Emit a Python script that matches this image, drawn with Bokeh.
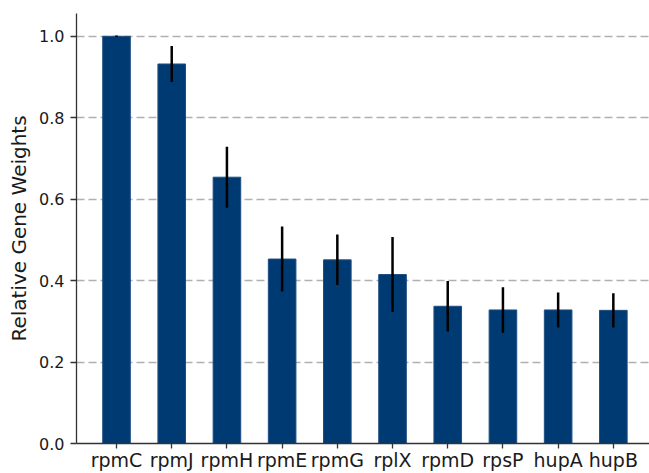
from bokeh.plotting import figure
from bokeh.models import Range1d, FixedTicker, PrintfTickFormatter, ColumnDataSource
from bokeh.embed import file_html
from bokeh.resources import INLINE

genes = ["rpmC", "rpmJ", "rpmH", "rpmE", "rpmG", "rplX", "rpmD", "rpsP", "hupA", "hupB"]
weights = [1.000, 0.932, 0.654, 0.453, 0.451, 0.415, 0.337, 0.328, 0.328, 0.327]
errors = [0.002, 0.044, 0.075, 0.080, 0.062, 0.092, 0.062, 0.056, 0.043, 0.042]
y_ticks = [0.0, 0.2, 0.4, 0.6, 0.8, 1.0]

xs = list(range(len(genes)))
src = ColumnDataSource(dict(
    x=xs, top=weights,
    lower=[w - e for w, e in zip(weights, errors)],
    upper=[w + e for w, e in zip(weights, errors)],
))

FONT = "DejaVu Sans"

p = figure(width=649, height=473, output_backend="svg", toolbar_location=None,
           x_range=Range1d(-0.725, 9.655), y_range=Range1d(0, 1.056),
           min_border_left=76, min_border_right=0, min_border_top=13, min_border_bottom=29)
p.outline_line_color = None
p.background_fill_color = "white"
p.border_fill_color = "white"

p.xgrid.grid_line_color = None
p.ygrid.grid_line_color = "#b0b0b0"
p.ygrid.grid_line_width = 1.6
p.ygrid.grid_line_dash = "8 4"

p.vbar(x="x", top="top", width=0.5, bottom=0, source=src,
       fill_color="#003a73", line_color="#1f4f85", line_width=1)
p.segment(x0="x", y0="lower", x1="x", y1="upper", source=src,
          line_color="black", line_width=2.5)

ax = p.xaxis[0]
ax.ticker = FixedTicker(ticks=xs)
ax.major_label_overrides = {i: g for i, g in enumerate(genes)}
ax.minor_tick_line_color = None
ax.major_tick_out = 5
ax.major_tick_in = 0
ax.axis_line_color = "#333333"
ax.axis_line_width = 1.3
ax.major_tick_line_color = "#333333"
ax.major_tick_line_width = 1.3
ax.major_label_text_font = FONT
ax.major_label_text_font_size = "19px"
ax.major_label_text_color = "#1a1a1a"
ax.major_label_standoff = 0

ay = p.yaxis[0]
ay.ticker = FixedTicker(ticks=y_ticks)
ay.formatter = PrintfTickFormatter(format="%.1f")
ay.minor_tick_line_color = None
ay.major_tick_out = 6
ay.major_tick_in = 0
ay.axis_line_color = "#333333"
ay.axis_line_width = 1.3
ay.major_tick_line_color = "#333333"
ay.major_tick_line_width = 1.3
ay.major_label_text_font = FONT
ay.major_label_text_font_size = "16px"
ay.major_label_text_color = "#1a1a1a"
ay.major_label_standoff = 6
ay.axis_label = "Relative Gene Weights"
ay.axis_label_text_font = FONT
ay.axis_label_text_font_size = "20px"
ay.axis_label_text_font_style = "normal"
ay.axis_label_text_color = "#1a1a1a"
ay.axis_label_standoff = 5

open("out.html", "w").write(file_html(p, INLINE))
